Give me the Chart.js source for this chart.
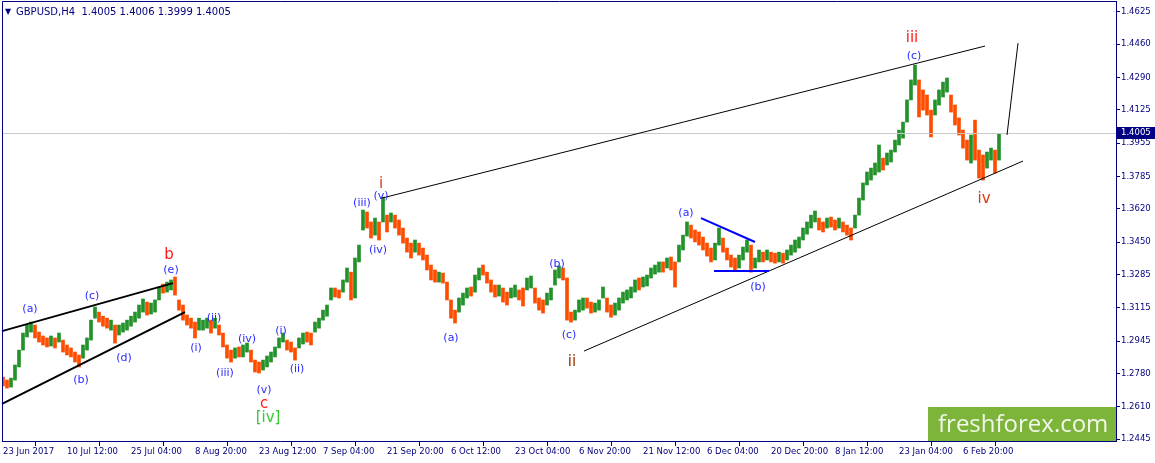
<!DOCTYPE html>
<html lang="en">
<head>
  <meta charset="UTF-8">
  <title>GBPUSD H4</title>
  <script src="https://cdn.jsdelivr.net/npm/chart.js"></script>
  <style>
    html, body { margin: 0; padding: 0; background: #fff; }
    .wrap { position: relative; width: 1155px; height: 463px; }
  </style>
</head>
<body>
  <div class="wrap"><canvas id="chart"></canvas></div>

  <script>
    // price axis labels as printed on the right
    const priceTicks = [1.4625, 1.4460, 1.4290, 1.4125, 1.3955, 1.3785, 1.3620,
                        1.3450, 1.3285, 1.3115, 1.2945, 1.2780, 1.2610, 1.2445];
    // time axis labels, one every 16 sampled bars
    const dateLabels = ['23 Jun 2017', '10 Jul 12:00', '25 Jul 04:00', '8 Aug 20:00', '23 Aug 12:00',
                        '7 Sep 04:00', '21 Sep 20:00', '6 Oct 12:00', '23 Oct 04:00', '6 Nov 20:00',
                        '21 Nov 12:00', '6 Dec 04:00', '20 Dec 20:00', '8 Jan 12:00', '23 Jan 04:00',
                        '6 Feb 20:00'];
    const barsPerLabel = 16;
    const lastPrice = 1.4005;

    // sampled candles (open / close)
    const opens = [
      1.2761, 1.2746, 1.2710, 1.2746, 1.2813, 1.2899, 1.2966, 1.2991, 1.3027, 1.2991,
      1.2971, 1.2961, 1.2920, 1.2961, 1.2940, 1.2950, 1.2925, 1.2910, 1.2889, 1.2874,
      1.2858, 1.2899, 1.2950, 1.3062, 1.3093, 1.3072, 1.3062, 1.3001, 1.3027, 1.2976,
      1.2991, 1.3001, 1.3021, 1.3042, 1.3062, 1.3093, 1.3144, 1.3083, 1.3093, 1.3155,
      1.3236, 1.3195, 1.3206, 1.3272, 1.3155, 1.3129, 1.3078, 1.3062, 1.3042, 1.3001,
      1.3001, 1.3011, 1.3052, 1.3011, 1.3027, 1.2986, 1.2925, 1.2899, 1.2858, 1.2915,
      1.2864, 1.2889, 1.2899, 1.2848, 1.2838, 1.2797, 1.2813, 1.2838, 1.2864, 1.2910,
      1.2940, 1.2950, 1.2940, 1.2910, 1.2910, 1.2930, 1.2991, 1.2986, 1.2991, 1.3011,
      1.3052, 1.3072, 1.3155, 1.3216, 1.3206, 1.3195, 1.3246, 1.3297, 1.3165, 1.3349,
      1.3512, 1.3604, 1.3553, 1.3486, 1.3553, 1.3553, 1.3588, 1.3553, 1.3588, 1.3563,
      1.3522, 1.3471, 1.3445, 1.3399, 1.3445, 1.3420, 1.3384, 1.3333, 1.3308, 1.3246,
      1.3292, 1.3246, 1.3155, 1.3103, 1.3093, 1.3129, 1.3165, 1.3221, 1.3195, 1.3257,
      1.3333, 1.3297, 1.3257, 1.3231, 1.3175, 1.3216, 1.3195, 1.3165, 1.3170, 1.3206,
      1.3216, 1.3206, 1.3216, 1.3216, 1.3165, 1.3155, 1.3129, 1.3155, 1.3231, 1.3267,
      1.3318, 1.3267, 1.3093, 1.3052, 1.3093, 1.3103, 1.3165, 1.3144, 1.3093, 1.3103,
      1.3165, 1.3165, 1.3129, 1.3078, 1.3103, 1.3139, 1.3155, 1.3165, 1.3195, 1.3267,
      1.3221, 1.3226, 1.3267, 1.3287, 1.3297, 1.3349, 1.3318, 1.3374, 1.3349, 1.3349,
      1.3410, 1.3481, 1.3537, 1.3512, 1.3502, 1.3476, 1.3445, 1.3420, 1.3359, 1.3435,
      1.3471, 1.3420, 1.3384, 1.3369, 1.3318, 1.3359, 1.3399, 1.3435, 1.3318, 1.3349,
      1.3399, 1.3359, 1.3399, 1.3394, 1.3349, 1.3394, 1.3359, 1.3384, 1.3399, 1.3420,
      1.3461, 1.3491, 1.3522, 1.3553, 1.3573, 1.3553, 1.3522, 1.3578, 1.3563, 1.3522,
      1.3553, 1.3537, 1.3522, 1.3522, 1.3588, 1.3665, 1.3742, 1.3767, 1.3793, 1.3808,
      1.3879, 1.3844, 1.3859, 1.3910, 1.3946, 1.3981, 1.4063, 1.4176, 1.4252, 1.4278,
      1.4227, 1.4201, 1.4124, 1.4099, 1.4150, 1.4191, 1.4216, 1.4201, 1.4150, 1.4084,
      1.4022, 1.3971, 1.3854, 1.4073, 1.3920, 1.3895, 1.3828, 1.3869, 1.3920, 1.3869
    ];
    const closes = [
      1.2716, 1.2705, 1.2756, 1.2823, 1.2899, 1.2986, 1.3027, 1.3042, 1.2961, 1.2940,
      1.2925, 1.2915, 1.2971, 1.2910, 1.2986, 1.2889, 1.2874, 1.2864, 1.2838, 1.2813,
      1.2925, 1.2961, 1.3052, 1.3119, 1.3042, 1.3021, 1.3011, 1.3052, 1.2935, 1.3027,
      1.3037, 1.3052, 1.3072, 1.3093, 1.3129, 1.3160, 1.3078, 1.3139, 1.3155, 1.3221,
      1.3190, 1.3246, 1.3257, 1.3180, 1.3103, 1.3052, 1.3027, 1.3011, 1.2961, 1.3062,
      1.3052, 1.3062, 1.2986, 1.3062, 1.2976, 1.2915, 1.2858, 1.2838, 1.2910, 1.2864,
      1.2925, 1.2935, 1.2838, 1.2787, 1.2782, 1.2848, 1.2869, 1.2889, 1.2915, 1.2961,
      1.2986, 1.2899, 1.2889, 1.2848, 1.2961, 1.2986, 1.2940, 1.2925, 1.3042, 1.3062,
      1.3103, 1.3129, 1.3216, 1.3170, 1.3165, 1.3257, 1.3318, 1.3155, 1.3369, 1.3435,
      1.3614, 1.3522, 1.3471, 1.3573, 1.3461, 1.3680, 1.3502, 1.3599, 1.3522, 1.3486,
      1.3445, 1.3399, 1.3369, 1.3461, 1.3384, 1.3359, 1.3308, 1.3257, 1.3246, 1.3297,
      1.3241, 1.3155, 1.3062, 1.3037, 1.3165, 1.3190, 1.3216, 1.3175, 1.3282, 1.3318,
      1.3282, 1.3241, 1.3195, 1.3170, 1.3231, 1.3144, 1.3129, 1.3216, 1.3231, 1.3155,
      1.3124, 1.3267, 1.3277, 1.3139, 1.3103, 1.3088, 1.3190, 1.3216, 1.3308, 1.3328,
      1.3257, 1.3052, 1.3042, 1.3103, 1.3155, 1.3165, 1.3113, 1.3088, 1.3139, 1.3155,
      1.3221, 1.3093, 1.3067, 1.3139, 1.3165, 1.3195, 1.3206, 1.3221, 1.3257, 1.3206,
      1.3272, 1.3282, 1.3318, 1.3333, 1.3349, 1.3297, 1.3369, 1.3308, 1.3221, 1.3435,
      1.3486, 1.3553, 1.3471, 1.3451, 1.3435, 1.3410, 1.3379, 1.3349, 1.3445, 1.3522,
      1.3399, 1.3359, 1.3323, 1.3308, 1.3384, 1.3425, 1.3461, 1.3297, 1.3369, 1.3410,
      1.3349, 1.3410, 1.3349, 1.3343, 1.3399, 1.3343, 1.3410, 1.3435, 1.3461, 1.3476,
      1.3522, 1.3553, 1.3588, 1.3609, 1.3512, 1.3502, 1.3573, 1.3527, 1.3512, 1.3573,
      1.3502, 1.3486, 1.3461, 1.3588, 1.3675, 1.3752, 1.3808, 1.3828, 1.3854, 1.3946,
      1.3818, 1.3905, 1.3920, 1.3971, 1.4022, 1.4063, 1.4176, 1.4278, 1.4354, 1.4089,
      1.4124, 1.4099, 1.3987, 1.4176, 1.4227, 1.4267, 1.4288, 1.4114, 1.4048, 1.3997,
      1.3930, 1.3869, 1.3997, 1.3869, 1.3777, 1.3767, 1.3910, 1.3930, 1.3803, 1.4005
    ];

    // wave labels: text, bar, price, style
    const waveMarks = [
      ['(a)', 6.75, 1.3109, 'blue'], ['(b)', 19.5, 1.2746, 'blue'], ['(c)', 22.25, 1.3175, 'blue'],
      ['(d)', 30.25, 1.2858, 'blue'], ['(e)', 42, 1.3308, 'blue'], ['b', 41.5, 1.3384, 'red'],
      ['(i)', 48.25, 1.2910, 'blue'], ['(ii)', 52.75, 1.3062, 'blue'], ['(iii)', 55.5, 1.2782, 'blue'],
      ['(iv)', 61, 1.2955, 'blue'], ['(v)', 65.25, 1.2697, 'blue'], ['c', 65.25, 1.2624, 'red'],
      ['[iv]', 66.25, 1.2552, 'green'], ['(i)', 69.5, 1.2996, 'blue'], ['(ii)', 73.5, 1.2802, 'blue'],
      ['(iii)', 89.75, 1.3650, 'blue'], ['(iv)', 93.75, 1.3410, 'blue'], ['(v)', 94.5, 1.3685, 'blue'],
      ['i', 94.5, 1.3747, 'orange'], ['(a)', 112, 1.2961, 'blue'], ['(b)', 138.5, 1.3338, 'blue'],
      ['(c)', 141.5, 1.2976, 'blue'], ['ii', 142.25, 1.2838, 'brown'], ['(a)', 170.75, 1.3599, 'blue'],
      ['(b)', 188.75, 1.3221, 'blue'], ['(c)', 227.75, 1.4400, 'blue'], ['iii', 227.25, 1.4492, 'red'],
      ['iv', 245.25, 1.3670, 'orange']
    ];
    const markStyles = {
      blue:   { color: '#2a2aff', font: '11px "DejaVu Sans"' },
      red:    { color: '#ff1a1a', font: '15px "DejaVu Sans"' },
      orange: { color: '#d93a10', font: '15px "DejaVu Sans"' },
      brown:  { color: '#993300', font: '15px "DejaVu Sans"' },
      green:  { color: '#33cc33', font: '15px "DejaVu Sans"' }
    };

    // trend lines drawn on the chart: [bar, price] -> [bar, price]
    const trendLines = [
      { from: [-0.25, 1.2996], to: [42.5, 1.3241], color: '#000', width: 2 },
      { from: [-0.25, 1.2624], to: [45.5, 1.3093], color: '#000', width: 2 },
      { from: [94.75, 1.3675], to: [245.5, 1.4451], color: '#000', width: 1 },
      { from: [145.25, 1.2894], to: [255, 1.3864], color: '#000', width: 1 },
      { from: [251, 1.3997], to: [253.75, 1.4466], color: '#000', width: 1 },
      { from: [174.5, 1.3573], to: [188, 1.3451], color: '#0000ff', width: 2 },
      { from: [177.75, 1.3303], to: [191.5, 1.3303], color: '#0000ff', width: 2 }
    ];

    const NAVY = '#000080';
    const axisFont = { family: 'DejaVu Sans', size: 8.5 };

    // frame, price line, trend lines, labels, title and logo
    const overlay = {
      id: 'overlay',
      afterDatasetsDraw(chart) {
        const { ctx, chartArea: a, scales: { x, y } } = chart;
        ctx.save();
        // current price line
        const py = Math.round(y.getPixelForValue(lastPrice)) + 0.5;
        ctx.strokeStyle = '#c8c8c8';
        ctx.lineWidth = 1;
        ctx.beginPath(); ctx.moveTo(a.left, py); ctx.lineTo(a.right, py); ctx.stroke();

        trendLines.forEach(l => {
          ctx.strokeStyle = l.color;
          ctx.lineWidth = l.width;
          ctx.beginPath();
          ctx.moveTo(x.getPixelForValue(l.from[0]), y.getPixelForValue(l.from[1]));
          ctx.lineTo(x.getPixelForValue(l.to[0]), y.getPixelForValue(l.to[1]));
          ctx.stroke();
        });

        ctx.textAlign = 'center';
        ctx.textBaseline = 'middle';
        waveMarks.forEach(([t, b, p, s]) => {
          ctx.fillStyle = markStyles[s].color;
          ctx.font = markStyles[s].font;
          ctx.fillText(t, x.getPixelForValue(b), y.getPixelForValue(p));
        });

        // frame left / top
        ctx.strokeStyle = NAVY;
        ctx.lineWidth = 1;
        ctx.beginPath();
        ctx.moveTo(a.left + 0.5, a.bottom); ctx.lineTo(a.left + 0.5, a.top + 0.5); ctx.lineTo(a.right, a.top + 0.5);
        ctx.stroke();
        ctx.restore();
      },
      afterDraw(chart) {
        const { ctx, chartArea: a, scales: { y } } = chart;
        ctx.save();
        // price tag on the axis
        const py = Math.round(y.getPixelForValue(lastPrice));
        ctx.fillStyle = NAVY;
        ctx.fillRect(a.right + 1, py - 6, chart.width - a.right - 1, 12);
        ctx.fillStyle = '#fff';
        ctx.font = '8.5px "DejaVu Sans"';
        ctx.textAlign = 'left';
        ctx.textBaseline = 'middle';
        ctx.fillText(lastPrice.toFixed(4), a.right + 5, py);

        // title
        ctx.fillStyle = NAVY;
        ctx.textBaseline = 'alphabetic';
        ctx.font = '8px "DejaVu Sans"';
        ctx.fillText('\u25BC', 5, 14);
        ctx.font = '10px "DejaVu Sans"';
        ctx.fillText('GBPUSD,H4  1.4005 1.4006 1.3999 1.4005', 16, 15);

        // logo box
        ctx.fillStyle = '#7db43a';
        ctx.fillRect(a.right - 188, a.bottom - 34, 188, 34);
        ctx.fillStyle = '#f2f7ea';
        ctx.font = '24px "Open Sans"';
        ctx.fillText('freshforex.com', a.right - 178, a.bottom - 9);
        ctx.restore();
      }
    };

    const ctx = document.getElementById('chart').getContext('2d');
    new Chart(ctx, {
      type: 'bar',
      data: {
        datasets: [{
          data: opens.map((o, i) => ({ x: i, y: [o, closes[i]] })),
          backgroundColor: c => (closes[c.dataIndex] >= opens[c.dataIndex] ? '#23922a' : '#ff4d00'),
          barThickness: 3,
          borderWidth: 0
        }]
      },
      options: {
        responsive: true,
        maintainAspectRatio: false,
        animation: false,
        layout: { padding: { left: 2, top: 1, right: 0, bottom: 0 }, autoPadding: false },
        plugins: { legend: { display: false }, tooltip: { enabled: false } },
        scales: {
          x: {
            type: 'linear',
            min: -0.25,
            max: 278.25,
            offset: false,
            grid: { drawOnChartArea: false, color: NAVY, tickLength: 5 },
            border: { color: NAVY },
            ticks: {
              color: NAVY, font: axisFont, align: 'start', maxRotation: 0, autoSkip: false, padding: 1,
              callback: (v, i) => dateLabels[i]
            },
            afterBuildTicks: s => { s.ticks = dateLabels.map((_, k) => ({ value: k * barsPerLabel })); },
            afterFit: s => { s.height = 22; s.paddingLeft = 0; s.paddingRight = 0; }
          },
          y: {
            position: 'right',
            min: 1.2435,
            max: 1.4681,
            grid: { drawOnChartArea: false, color: NAVY, tickLength: 4 },
            border: { color: NAVY },
            ticks: { color: NAVY, font: axisFont, padding: 1, callback: v => v.toFixed(4) },
            afterBuildTicks: s => { s.ticks = priceTicks.map(v => ({ value: v })); },
            afterFit: s => { s.width = 39; s.paddingTop = 0; s.paddingBottom = 0; }
          }
        }
      },
      plugins: [overlay]
    });
  </script>
</body>
</html>
